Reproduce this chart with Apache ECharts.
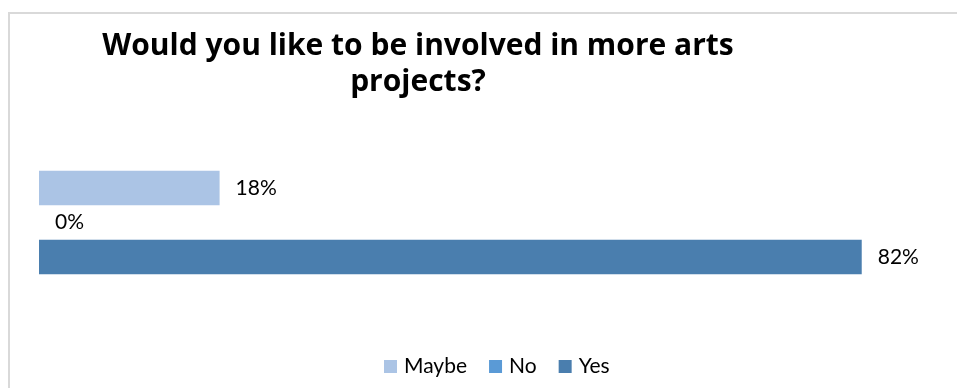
<!DOCTYPE html>
<html>
<head>
<meta charset="utf-8">
<script src="https://cdn.jsdelivr.net/npm/echarts@6/dist/echarts.min.js"></script>
<style>
  html, body { margin: 0; padding: 0; background: #ffffff; }
  #chart { width: 957px; height: 388px; }
</style>
</head>
<body>
<div id="chart"></div>
<script>
// Survey answers, percentage of respondents
const categories = ['Would you like to be involved in more arts projects?'];
const seriesNames = ['Maybe', 'No', 'Yes'];
const maybeValues = [18];
const noValues = [0];
const yesValues = [82];
const seriesColors = ['#abc4e5', '#5a9ad6', '#4a7eae'];

const valueSets = [maybeValues, noValues, yesValues];
const fontFamily = 'Lato, "Open Sans", sans-serif';
const titleFont = '"Open Sans", Lato, sans-serif';

const chart = echarts.init(document.getElementById('chart'), null, { renderer: 'canvas' });

chart.setOption({
  animation: false,
  backgroundColor: '#ffffff',
  textStyle: { fontFamily: fontFamily, color: '#000000' },
  graphic: [
    {
      type: 'polyline',
      shape: { points: [[9, 400], [9, 13], [960, 13]] },
      style: { stroke: '#d9d9d9', lineWidth: 2, fill: null },
      silent: true
    },
    {
      type: 'text',
      x: 418,
      y: 28,
      style: {
        text: 'Would you like to be involved in more arts\nprojects?',
        textAlign: 'center',
        textVerticalAlign: 'top',
        font: 'bold 30px ' + titleFont,
        fill: '#000000',
        lineHeight: 36
      }
    }
  ],
  legend: {
    data: seriesNames,
    left: 379,
    top: 351,
    itemWidth: 13,
    itemHeight: 13,
    itemGap: 22,
    icon: 'rect',
    textStyle: { fontSize: 21, fontFamily: fontFamily, color: '#000000', padding: [0, 0, 0, 2] }
  },
  grid: { left: 39, right: 15, top: 160, height: 125, containLabel: false },
  xAxis: {
    type: 'value',
    min: 0,
    max: 90,
    show: false
  },
  yAxis: {
    type: 'category',
    data: categories,
    inverse: true,
    show: false
  },
  series: seriesNames.map((name, i) => ({
    name: name,
    type: 'bar',
    data: valueSets[i],
    barWidth: 34.5,
    barGap: '0%',
    itemStyle: { color: seriesColors[i] },
    label: {
      show: true,
      position: 'right',
      distance: 16,
      formatter: '{c}%',
      fontSize: 21,
      fontFamily: fontFamily,
      color: '#000000'
    }
  }))
});
</script>
</body>
</html>
